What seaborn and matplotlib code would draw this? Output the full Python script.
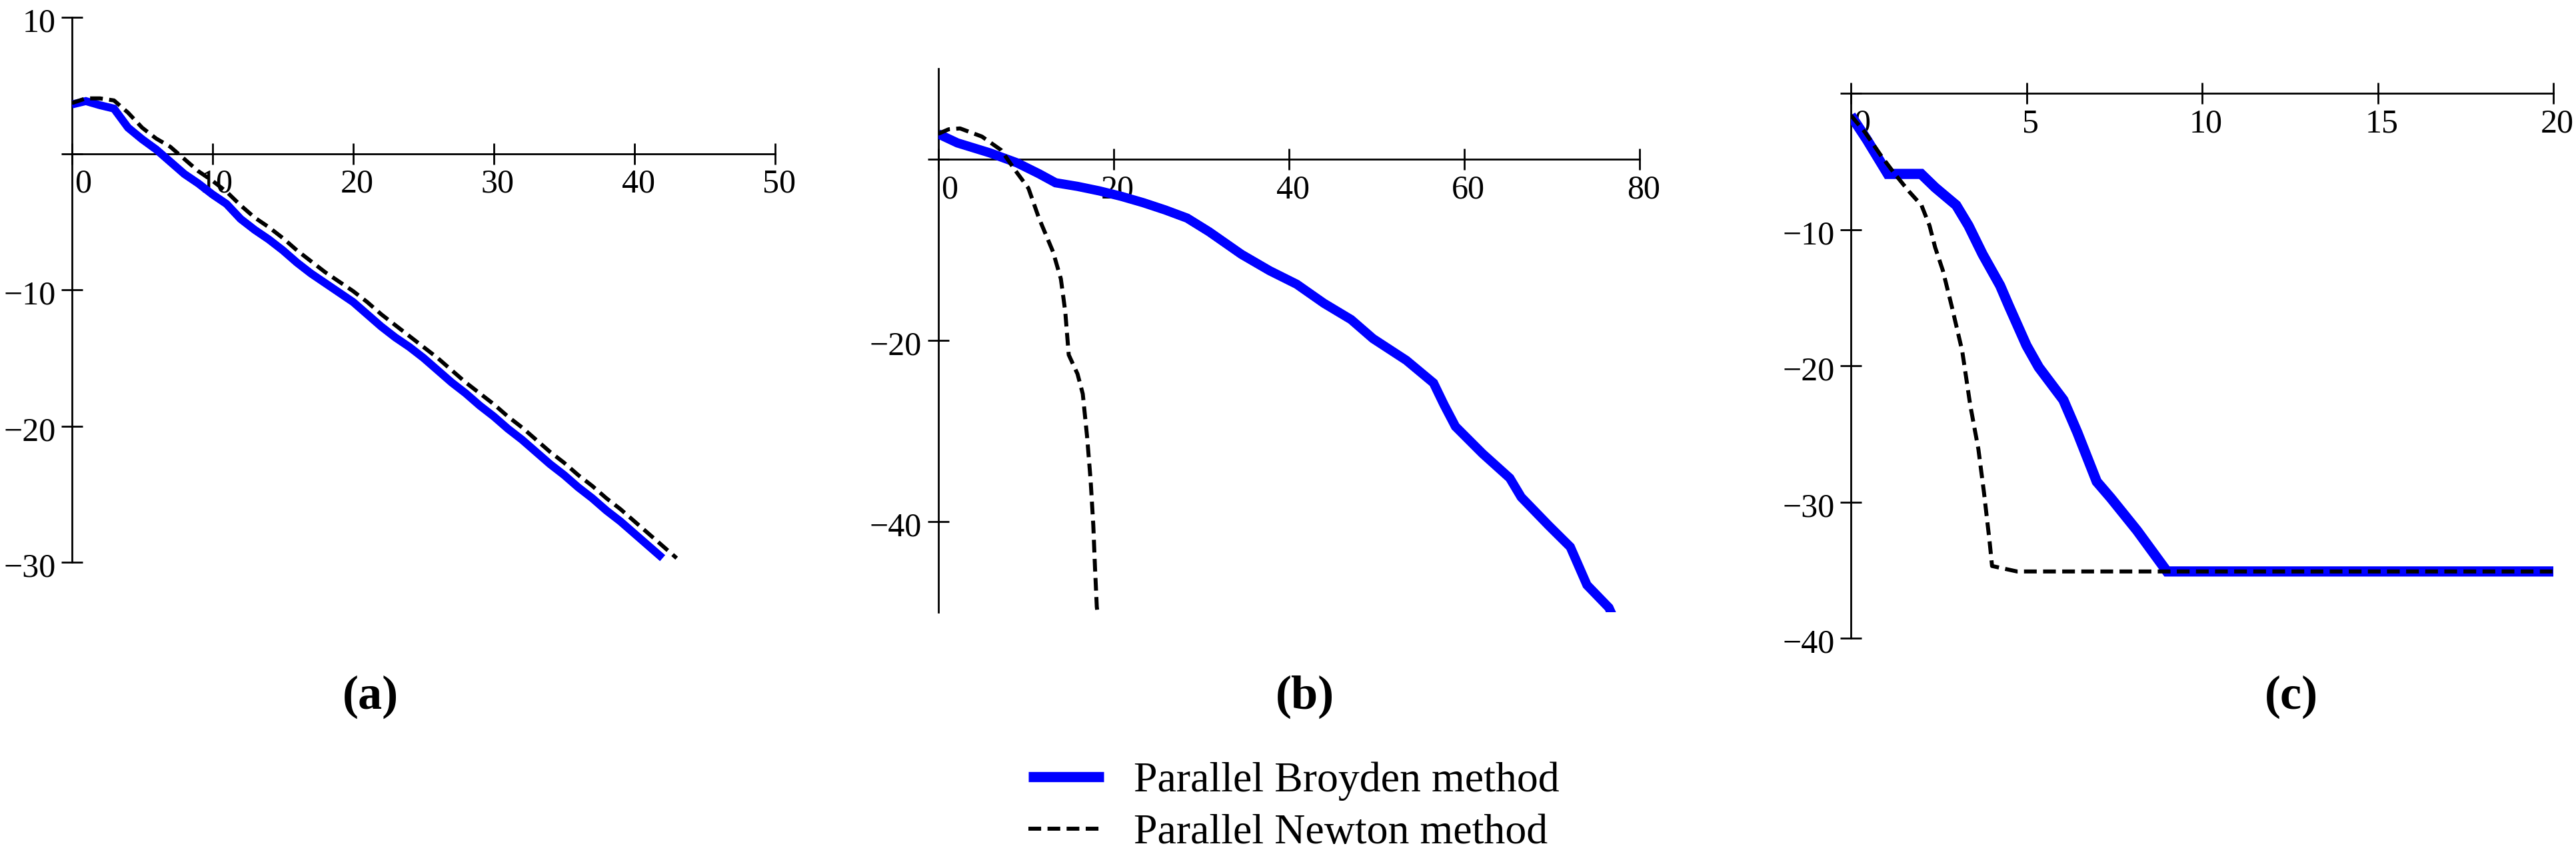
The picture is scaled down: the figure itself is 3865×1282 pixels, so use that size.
import matplotlib
matplotlib.use("Agg")
import matplotlib.pyplot as plt
from matplotlib.transforms import ScaledTranslation
import seaborn as sns

# ---------------- data ----------------
# (a)
a_broyden_x = list(range(0, 43))
a_broyden_y = [3.6, 3.85, 3.55, 3.3, 1.9, 1.05, 0.3, -0.6, -1.5, -2.2,
               -3.0, -3.7, -4.8, -5.6, -6.3, -7.1, -8.0, -8.8, -9.5, -10.2,
               -10.9, -11.8, -12.7, -13.5, -14.2, -15.0, -15.9, -16.8, -17.6, -18.5,
               -19.3, -20.2, -21.0, -21.9, -22.8, -23.6, -24.5, -25.3, -26.2, -27.0,
               -27.9, -28.8, -29.7]
a_newton_x = list(range(0, 44))
a_newton_y = [3.7, 4.05, 4.05, 3.9, 3.0, 1.9, 1.1, 0.5, -0.4, -1.3,
              -2.0, -2.8, -3.8, -4.7, -5.4, -6.2, -7.1, -7.9, -8.7, -9.4,
              -10.1, -10.9, -11.8, -12.6, -13.4, -14.2, -15.0, -15.9, -16.8, -17.6,
              -18.4, -19.3, -20.1, -21.0, -21.9, -22.7, -23.6, -24.4, -25.3, -26.1,
              -27.0, -27.9, -28.8, -29.7]

# (b)
b_broyden_x = [0, 2.2, 5.9, 9.0, 11.5, 13.4, 15.9, 18.4, 20.9, 23.4, 25.9, 28.4,
               30.9, 34.6, 37.8, 40.9, 44.0, 47.1, 49.6, 53.4, 56.5, 57.7, 59.0,
               62.1, 65.2, 66.5, 69.6, 72.1, 74.0, 76.5, 77.2]
b_broyden_y = [2.8, 1.8, 0.7, -0.4, -1.6, -2.6, -3.0, -3.5, -4.1, -4.8, -5.6, -6.5,
               -8.0, -10.5, -12.3, -13.8, -15.9, -17.7, -19.8, -22.2, -24.7, -27.1, -29.5,
               -32.5, -35.2, -37.3, -40.4, -42.8, -47.0, -49.5, -51.0]
b_newton_x = [0, 1.2, 2.5, 5.0, 7.2, 8.7, 10.3, 11.5, 13.1, 14.0, 14.5, 14.9,
              15.9, 16.5, 17.0, 17.4, 17.7, 17.9, 18.1, 18.3]
b_newton_y = [2.8, 3.3, 3.4, 2.5, 1.0, -1.1, -3.2, -6.5, -10.2, -13.2, -16.8, -21.6,
              -23.7, -25.9, -30.7, -35.5, -40.4, -45.2, -49.4, -51.0]

# (c)
c_broyden_x = [0, 0.46, 1.05, 2.0, 2.4, 3.0, 3.35, 3.75, 4.25, 4.5, 5.0, 5.35,
               6.05, 6.45, 7.0, 7.4, 8.15, 9.0, 20]
c_broyden_y = [-1.6, -3.4, -5.9, -5.9, -6.9, -8.2, -9.7, -11.8, -14.1, -15.6, -18.5, -20.1,
               -22.5, -24.9, -28.5, -29.7, -32.1, -35.1, -35.1]
c_newton_x = [0, 0.39, 0.87, 1.22, 1.66, 2.01, 2.24, 2.40, 2.62, 2.87, 3.17, 3.4,
              3.63, 3.79, 3.95, 4.02, 4.73, 20]
c_newton_y = [-1.6, -2.8, -4.6, -5.8, -7.2, -8.2, -9.7, -11.3, -13.0, -15.6, -18.9, -22.9,
              -26.1, -29.3, -32.9, -34.7, -35.1, -35.1]

# ticks
a_xticks = [0, 10, 20, 30, 40, 50]
a_yticks = [10, 0, -10, -20, -30]
a_yticklabels = ["10", "", "\u221210", "\u221220", "\u221230"]
b_xticks = [0, 20, 40, 60, 80]
b_yticks = [0, -20, -40]
b_yticklabels = ["", "\u221220", "\u221240"]
c_xticks = [0, 5, 10, 15, 20]
c_yticks = [0, -10, -20, -30, -40]
c_yticklabels = ["", "\u221210", "\u221220", "\u221230", "\u221240"]

panel_labels = ["(a)", "(b)", "(c)"]
series_names = ["Parallel Broyden method", "Parallel Newton method"]

# ---------------- style ----------------
sns.set_theme(style="white")
plt.rcParams['font.family'] = ['Liberation Serif', 'DejaVu Serif']
plt.rcParams['axes.unicode_minus'] = True
plt.rcParams['text.color'] = 'black'
plt.rcParams['xtick.color'] = 'black'
plt.rcParams['ytick.color'] = 'black'
plt.rcParams['legend.labelcolor'] = 'black'

W, H = 3865, 1282
fig = plt.figure(figsize=(W / 100, H / 100), dpi=100)

def frac_rect(left, right, top, bottom):
    return [left / W, 1 - bottom / H, (right - left) / W, (bottom - top) / H]

ax_a = fig.add_axes(frac_rect(107.7, 1163, 26, 844))
ax_b = fig.add_axes(frac_rect(1407.5, 2460, 103, 919))
ax_c = fig.add_axes(frac_rect(2777, 3831, 140.5, 958))

BLUE = "#0000ff"
DASH = (0, (3.2, 1.6))

def draw(ax, bx, by, nx, ny, blw):
    sns.lineplot(x=bx, y=by, ax=ax, color=BLUE, linewidth=blw, sort=False,
                 estimator=None, legend=False, label=series_names[0],
                 solid_capstyle='butt', solid_joinstyle='miter', zorder=3)
    sns.lineplot(x=nx, y=ny, ax=ax, color='black', linewidth=4.3, sort=False,
                 estimator=None, legend=False, label=series_names[1],
                 linestyle=DASH, dash_capstyle='butt', zorder=4)

def style(ax, xlim, ylim, xt, yt, yl):
    ax.set_xlim(*xlim)
    ax.set_ylim(*ylim)
    ax.grid(False)
    ax.patch.set_alpha(0)
    ax.set_xlabel("")
    ax.set_ylabel("")
    for s in ['top', 'right']:
        ax.spines[s].set_visible(False)
    ax.spines['left'].set_position(('data', 0))
    ax.spines['bottom'].set_position(('data', 0))
    for s in ['left', 'bottom']:
        ax.spines[s].set_linewidth(2.0)
        ax.spines[s].set_color('black')
        ax.spines[s].set_zorder(2)
    ax.set_xticks(xt, [str(v) for v in xt])
    ax.set_yticks(yt, yl)
    ax.tick_params(direction='inout', length=23, width=2, colors='black',
                   labelcolor='black', labelsize=36, bottom=True, left=True)
    ax.tick_params(axis='x', pad=5)
    ax.tick_params(axis='y', pad=6)
    # Mathcad-like label placement: x labels shifted slightly right
    for v, t in zip(xt, ax.xaxis.get_major_ticks()):
        dx = 17 if v == 0 else 6
        t.label1.set_transform(t.label1.get_transform() +
                               ScaledTranslation(dx / 100, 0, fig.dpi_scale_trans))
    for t in ax.yaxis.get_major_ticks():
        t.label1.set_transform(t.label1.get_transform() +
                               ScaledTranslation(0, -4 / 100, fig.dpi_scale_trans))

draw(ax_a, a_broyden_x, a_broyden_y, a_newton_x, a_newton_y, 8.6)
draw(ax_b, b_broyden_x, b_broyden_y, b_newton_x, b_newton_y, 10.0)
draw(ax_c, c_broyden_x, c_broyden_y, c_newton_x, c_newton_y, 11.0)

style(ax_a, (0, 50), (-30, 10), a_xticks, a_yticks, a_yticklabels)
style(ax_b, (0, 80), (-50, 10), b_xticks, b_yticks, b_yticklabels)
style(ax_c, (0, 20), (-40, 0), c_xticks, c_yticks, c_yticklabels)

# panel labels
for lab, cx in zip(panel_labels, [556, 1958, 3438]):
    fig.text(cx / W, 1 - 1046 / H, lab, ha='center', va='center',
             fontsize=52, fontweight='bold', color='black')

# legend
handles = ax_c.get_lines()[:2]
fig.legend(handles=handles, labels=series_names, loc='center left',
           bbox_to_anchor=(1543 / W, 1 - 1212 / H), frameon=False,
           fontsize=46, handlelength=1.77, handletextpad=0.70,
           labelspacing=0.3, borderpad=0, borderaxespad=0, labelcolor='black')

fig.savefig("out.png", dpi=100)
